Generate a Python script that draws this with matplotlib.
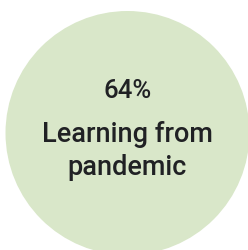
import matplotlib
matplotlib.use("Agg")
from matplotlib import pyplot
from matplotlib.patches import Circle

# bubble data
shares = [64]
labels = ["Learning from", "pandemic"]

fill = "#d9e7c9"
ink = "#202124"

fig = pyplot.figure(figsize=(2.48, 2.51), dpi=100)
ax = fig.add_axes([0, 0, 1, 1])
ax.set_xlim(0, 248)
ax.set_ylim(251, 0)
ax.set_aspect("equal")
ax.axis("off")

cx, cy, r = 127.5, 134, 122
ax.add_patch(Circle((cx, cy), r, color=fill, lw=0))

ax.text(cx, 98, "%d%%" % shares[0], ha="center", va="baseline",
        fontsize=18.5, family="Roboto", weight="medium", color=ink)
for i, line in enumerate(labels):
    ax.text(cx, 142 + 33 * i, line, ha="center", va="baseline",
            fontsize=19.5, family="Roboto", weight="medium", color=ink)

pyplot.savefig("out.png", dpi=100)
